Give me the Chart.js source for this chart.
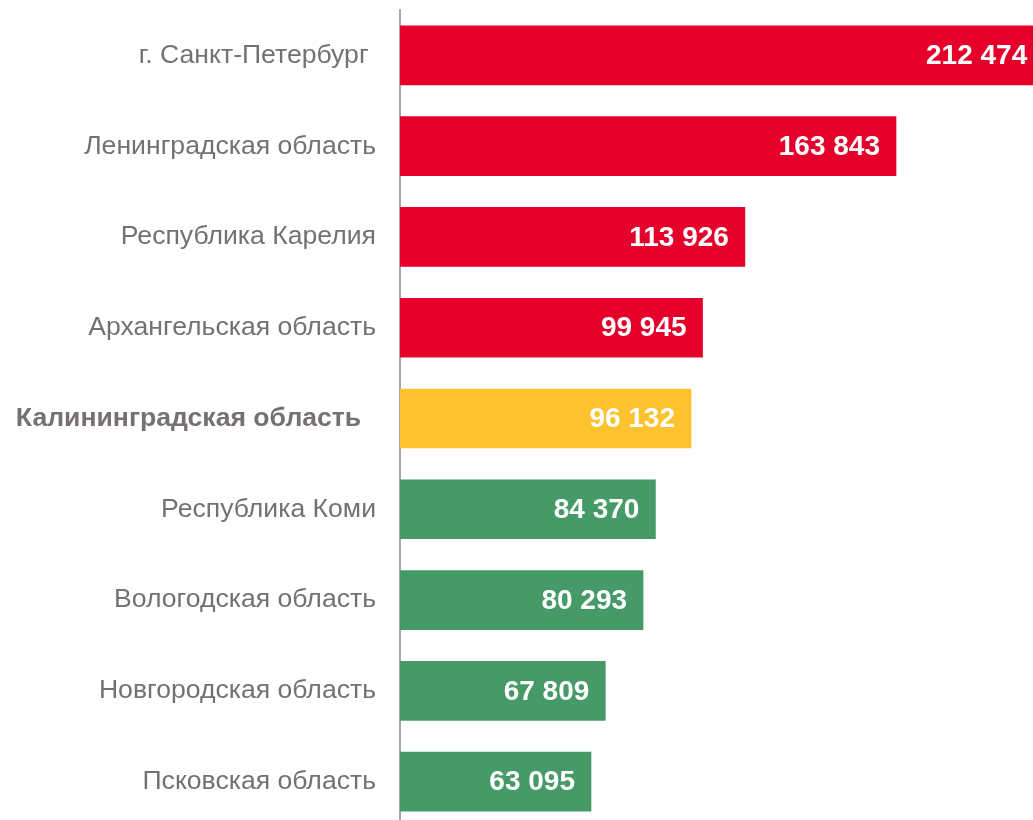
<!DOCTYPE html>
<html>
<head>
<meta charset="utf-8">
<script src="https://cdn.jsdelivr.net/npm/chart.js@4"></script>
<style>
  body { margin: 0; overflow: hidden; background: #fff; }
  #wrap { position: relative; width: 1033px; height: 830px; }
</style>
</head>
<body>
<div id="wrap"><canvas id="regionsChart"></canvas></div>
<script>
const regions = [
  "г. Санкт-Петербург ",
  "Ленинградская область",
  "Республика Карелия",
  "Архангельская область",
  "Калининградская область  ",
  "Республика Коми",
  "Вологодская область",
  "Новгородская область",
  "Псковская область"
];
const values = [212474, 163843, 113926, 99945, 96132, 84370, 80293, 67809, 63095];
const barColors = [
  "#e4002b", "#e4002b", "#e4002b", "#e4002b",
  "#fdc32f",
  "#459a67", "#459a67", "#459a67", "#459a67"
];
const highlightIndex = 4;

function formatValue(v) {
  return String(v).replace(/\B(?=(\d{3})+(?!\d))/g, " ");
}

// draws the white numbers inside the bars
const valueLabels = {
  id: "valueLabels",
  afterDatasetsDraw(chart) {
    const ctx = chart.ctx;
    const meta = chart.getDatasetMeta(0);
    ctx.save();
    ctx.fillStyle = "#ffffff";
    ctx.font = "bold 28px 'Liberation Sans', Arial, sans-serif";
    ctx.textAlign = "right";
    ctx.textBaseline = "middle";
    meta.data.forEach((bar, i) => {
      ctx.fillText(formatValue(values[i]), bar.x - 16, bar.y + 1);
    });
    ctx.restore();
  }
};

const chartEl = document.getElementById("regionsChart");
new Chart(chartEl, {
  type: "bar",
  data: {
    labels: regions,
    datasets: [
      {
        data: values,
        backgroundColor: barColors,
        borderWidth: 0,
        barThickness: 59
      }
    ]
  },
  options: {
    indexAxis: "y",
    responsive: true,
    maintainAspectRatio: false,
    animation: false,
    layout: {
      padding: { top: 10, bottom: 3, left: 0, right: 0 }
    },
    scales: {
      x: {
        display: false,
        min: 0,
        max: 209100
      },
      y: {
        afterFit(scale) {
          scale.width = 400;
          scale.paddingTop = 0;
          scale.paddingBottom = 0;
        },
        grid: { display: false, drawTicks: false },
        border: { display: true, color: "#a6a6a6", width: 2 },
        ticks: {
          padding: 24,
          color: "#767171",
          font: (c) => ({
            family: "'Liberation Sans', Arial, sans-serif",
            size: 26.6,
            weight: c.index === highlightIndex ? "bold" : "normal"
          })
        }
      }
    },
    plugins: {
      legend: { display: false },
      tooltip: { enabled: false }
    }
  },
  plugins: [valueLabels]
});
</script>
</body>
</html>
